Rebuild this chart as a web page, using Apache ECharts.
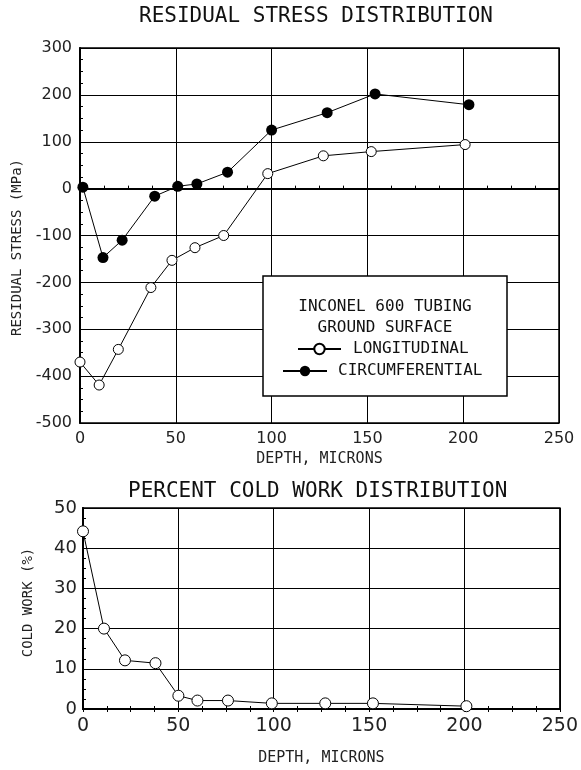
<!DOCTYPE html>
<html>
<head>
<meta charset="utf-8">
<script src="https://cdn.jsdelivr.net/npm/echarts@6/dist/echarts.min.js"></script>
<style>
  html, body { margin: 0; padding: 0; background: #fff; }
  #chart { width: 581px; height: 770px; }
</style>
</head>
<body>
<div id="chart"></div>
<script>
  // residual stress, MPa vs depth, microns
  var depthLong = [0, 10, 20, 37, 48, 60, 75, 98, 127, 152, 201];
  var stressLong = [-370, -419, -343, -211, -153, -126, -100, 32, 70, 79, 94];
  var depthCirc = [1.5, 12, 22, 39, 51, 61, 77, 100, 129, 154, 203];
  var stressCirc = [3, -147, -110, -16, 5, 10, 35, 125, 162, 202, 179];
  // percent cold work vs depth
  var depthCW = [0, 11, 22, 38, 50, 60, 76, 99, 127, 152, 201];
  var coldWork = [44.2, 20, 12.1, 11.4, 3.3, 2.1, 2.1, 1.4, 1.4, 1.4, 0.7];

  var mono = 'DejaVu Sans Mono';
  var sans = 'DejaVu Sans';

  function pairs(xs, ys) {
    return xs.map(function (x, i) { return [x, ys[i]]; });
  }

  function valAxis(grid, min, max, step, extra) {
    var ax = {
      type: 'value',
      gridIndex: grid,
      min: min,
      max: max,
      interval: step,
      axisLine: {show: true, lineStyle: {color: '#000', width: 2}},
      axisTick: {show: true, inside: true, length: 3, lineStyle: {color: '#000'}},
      minorTick: {show: true, splitNumber: 4, length: 3, lineStyle: {color: '#000'}},
      splitLine: {show: true, lineStyle: {color: '#000', width: 1}},
      axisLabel: {color: '#222', fontFamily: sans, fontSize: 16, margin: 8}
    };
    for (var k in extra) ax[k] = extra[k];
    return ax;
  }

  var openDot = {color: '#fff', borderColor: '#000', borderWidth: 1};
  var thinLine = {color: '#000', width: 1};

  var chart = echarts.init(document.getElementById('chart'));
  chart.setOption({
    animation: false,
    backgroundColor: '#fff',
    title: [
      {text: 'RESIDUAL STRESS DISTRIBUTION', left: 139, top: 6, padding: 0,
        textStyle: {fontFamily: mono, fontSize: 21, fontWeight: 'normal', color: '#111'}},
      {text: 'PERCENT COLD WORK DISTRIBUTION', left: 128, top: 481, padding: 0,
        textStyle: {fontFamily: mono, fontSize: 21, fontWeight: 'normal', color: '#111'}}
    ],
    grid: [
      {left: 80, top: 48, width: 479, height: 375, show: true, borderColor: '#000', borderWidth: 1.5},
      {left: 83, top: 508, width: 478, height: 201, show: true, borderColor: '#000', borderWidth: 1.5}
    ],
    xAxis: [
      valAxis(0, 0, 250, 50, {
        name: 'DEPTH, MICRONS', nameLocation: 'middle', nameGap: 29,
        nameTextStyle: {fontFamily: mono, fontSize: 15, color: '#222'}
      }),
      valAxis(1, 0, 250, 50, {
        name: 'DEPTH, MICRONS', nameLocation: 'middle', nameGap: 42,
        nameTextStyle: {fontFamily: mono, fontSize: 15, color: '#222'},
        axisLabel: {color: '#222', fontFamily: sans, fontSize: 19, margin: 8}
      }),
      valAxis(1, 0, 250, 50, {
        position: 'top', axisLabel: {show: false}, splitLine: {show: false},
        axisLine: {show: true, lineStyle: {color: '#000', width: 1.5}}
      })
    ],
    yAxis: [
      valAxis(0, -500, 300, 100, {
        name: 'RESIDUAL STRESS (MPa)', nameLocation: 'middle', nameGap: 55,
        nameTextStyle: {fontFamily: mono, fontSize: 14, color: '#222', padding: [0, 24, 0, 0]}
      }),
      valAxis(1, 0, 50, 10, {
        name: 'COLD WORK (%)', nameLocation: 'middle', nameGap: 48,
        nameTextStyle: {fontFamily: mono, fontSize: 14, color: '#222', padding: [0, 0, 0, 12]},
        axisLabel: {color: '#222', fontFamily: sans, fontSize: 18, margin: 6}
      }),
      valAxis(1, 0, 50, 10, {
        position: 'right', axisLabel: {show: false}, splitLine: {show: false},
        axisTick: {show: true, inside: false, length: 3, lineStyle: {color: '#000'}},
        minorTick: {show: true, splitNumber: 4, length: 3, lineStyle: {color: '#000'}},
        axisLine: {show: true, lineStyle: {color: '#000', width: 1.5}}
      })
    ],
    legend: [
      {data: ['LONGITUDINAL'], left: 297, top: 341, padding: 0, itemWidth: 43, itemHeight: 13,
        selectedMode: false,
        textStyle: {fontFamily: mono, fontSize: 16, color: '#111', padding: [0, 0, 0, 7]}},
      {data: ['CIRCUMFERENTIAL'], left: 282, top: 363, padding: 0, itemWidth: 44, itemHeight: 13,
        selectedMode: false,
        textStyle: {fontFamily: mono, fontSize: 16, color: '#111', padding: [0, 0, 0, 6]}}
    ],
    graphic: [
      {type: 'rect', z: 3, shape: {x: 263, y: 276, width: 244, height: 120},
        style: {fill: '#fff', stroke: '#000', lineWidth: 1.5}},
      {type: 'text', z: 4, x: 385, y: 307,
        style: {text: 'INCONEL 600 TUBING', align: 'center', verticalAlign: 'middle',
          font: '16px "DejaVu Sans Mono"', fill: '#111'}},
      {type: 'text', z: 4, x: 385, y: 328,
        style: {text: 'GROUND SURFACE', align: 'center', verticalAlign: 'middle',
          font: '16px "DejaVu Sans Mono"', fill: '#111'}}
    ],
    series: [
      {
        name: 'LONGITUDINAL', type: 'line', xAxisIndex: 0, yAxisIndex: 0,
        data: pairs(depthLong, stressLong),
        symbol: 'circle', symbolSize: 10, showAllSymbol: true,
        itemStyle: openDot, lineStyle: thinLine
      },
      {
        name: 'CIRCUMFERENTIAL', type: 'line', xAxisIndex: 0, yAxisIndex: 0,
        data: pairs(depthCirc, stressCirc),
        symbol: 'circle', symbolSize: 11, showAllSymbol: true,
        itemStyle: {color: '#000'}, lineStyle: thinLine,
        markLine: {
          silent: true, symbol: 'none', label: {show: false},
          lineStyle: {color: '#000', width: 2, type: 'solid'},
          data: [{yAxis: 0}]
        }
      },
      {
        name: 'COLD WORK', type: 'line', xAxisIndex: 1, yAxisIndex: 1,
        data: pairs(depthCW, coldWork),
        symbol: 'circle', symbolSize: 11, showAllSymbol: true,
        itemStyle: openDot, lineStyle: thinLine
      }
    ]
  });
</script>
</body>
</html>
